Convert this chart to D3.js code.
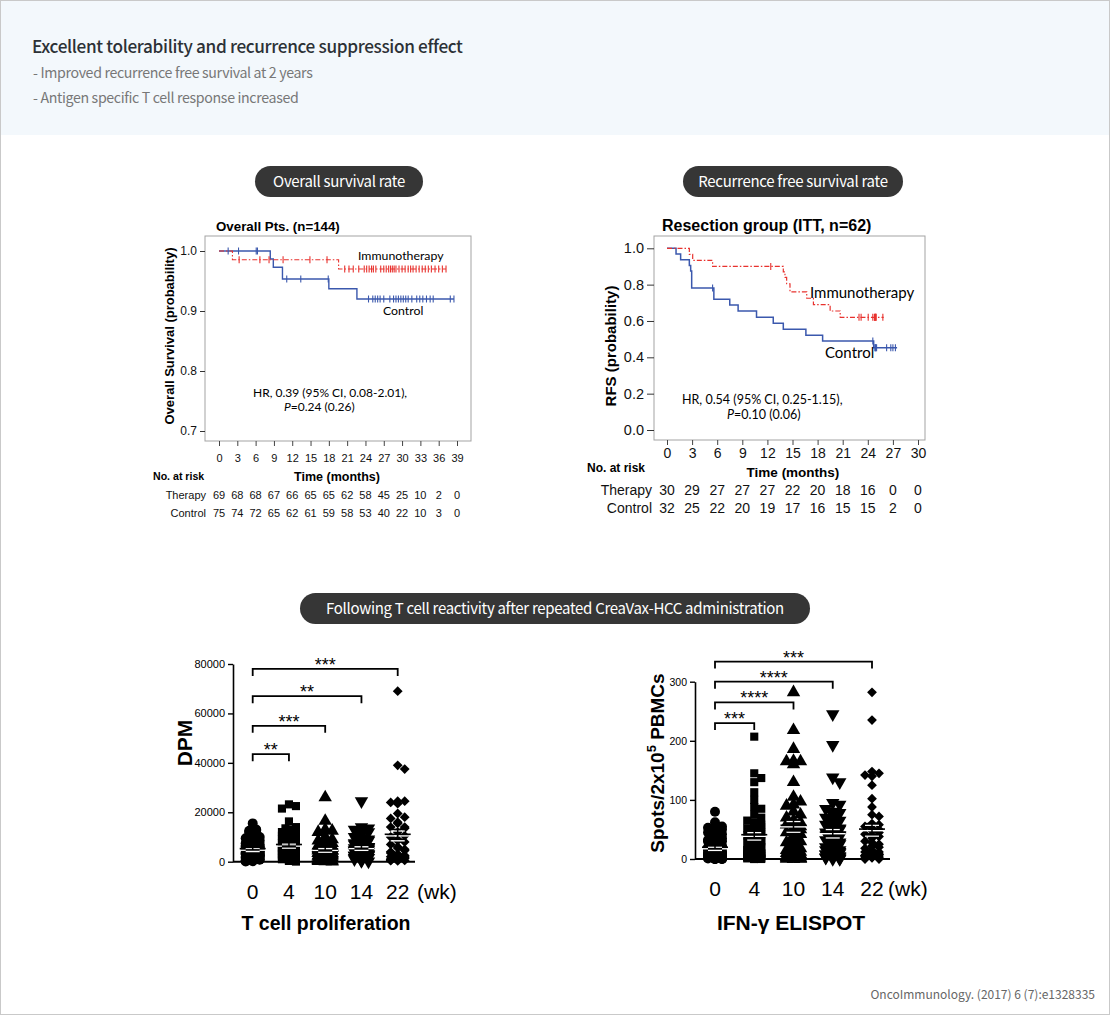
<!DOCTYPE html>
<html>
<head>
<meta charset="utf-8">
<script src="https://cdn.jsdelivr.net/npm/d3@7"></script>
<style>
body { margin: 0; background: #fff; }
svg { display: block; }
.hd { font-family: "Noto Sans CJK KR", "Noto Sans", sans-serif; }
.ar { font-family: "Liberation Sans", Arial, sans-serif; }
.cal { font-family: Lato, "Open Sans", sans-serif; }
</style>
</head>
<body>
<svg id="page" width="1110" height="1015"></svg>
<script>
// ---- overall survival (months, survival) ----
var osMonths = d3.range(0, 40, 3);
var osTherapyRisk = [69, 68, 68, 67, 66, 65, 65, 62, 58, 45, 25, 10, 2, 0];
var osControlRisk = [75, 74, 72, 65, 62, 61, 59, 58, 53, 40, 22, 10, 3, 0];
var osTherapySteps = [[0, 1], [2.2, 0.9855], [19.6, 0.970]];
var osTherapyEnd = 37.2;
var osTherapyCensor = [3.3, 6.7, 8.2, 10.5, 14.9, 17.7, 20.6, 21.3, 22.0, 22.9, 23.8, 24.2, 24.6, 25.0, 25.3, 25.7,
  26.5, 27.0, 27.4, 27.8, 28.1, 28.4, 28.7, 29.0, 29.5, 30.0, 30.5, 31.0, 31.4, 31.8, 32.3, 32.8, 33.3, 33.8,
  34.3, 34.8, 35.4, 36.0, 36.6, 37.2];
var osControlSteps = [[0, 1], [8.4, 0.9867], [8.9, 0.973], [10.4, 0.9533], [18.0, 0.937], [22.6, 0.92]];
var osControlEnd = 38.5;
var osControlCensor = [1.5, 3.2, 6.1, 6.3, 11.1, 13.4, 17.9, 24.5, 25.2, 25.6, 26.0, 26.4, 27.0, 28.0, 28.6, 29.0,
  29.4, 29.8, 30.2, 30.6, 31.0, 31.6, 32.4, 32.9, 33.4, 34.0, 34.6, 35.1, 37.9, 38.5];

// ---- recurrence free survival ----
var rfsMonths = d3.range(0, 31, 3);
var rfsTherapyRisk = [30, 29, 27, 27, 27, 22, 20, 18, 16, 0, 0];
var rfsControlRisk = [32, 25, 22, 20, 19, 17, 16, 15, 15, 2, 0];
var rfsTherapySteps = [[0, 1], [2.67, 0.967], [3.07, 0.933], [5.45, 0.9], [13.9, 0.87], [14.1, 0.84], [14.3, 0.805],
  [14.7, 0.76], [16.7, 0.725], [17.5, 0.69], [19.5, 0.655], [20.7, 0.62]];
var rfsTherapyEnd = 25.9;
var rfsTherapyCensor = [12.4, 22.95, 23.2, 24.05, 24.6, 24.8, 24.85, 24.9, 24.95, 25.0, 25.8];
var rfsControlSteps = [[0, 1], [1.08, 0.969], [1.63, 0.9375], [2.67, 0.906], [2.83, 0.875], [2.95, 0.781],
  [5.6, 0.719], [7.5, 0.688], [8.5, 0.655], [10.7, 0.62], [12.7, 0.587], [13.9, 0.554], [16.6, 0.522],
  [18.6, 0.49], [24.7, 0.453]];
var rfsControlEnd = 27.5;
var rfsControlCensor = [5.45, 24.6, 24.85, 24.9, 24.95, 25.05, 26.25, 26.75, 27.0, 27.3];

// ---- T cell reactivity (weeks) ----
var weeks = ["0", "4", "10", "14", "22"];
var dpm0 = [15500, 13000, 12500, 12500, 12000, 11500, 10500, 10000, 9500, 9000, 8500, 8000, 7500, 7000, 7000, 6500,
  6000, 6000, 6000, 5500, 5500, 5000, 5000, 5000, 4500, 4500, 4000, 4000, 4000, 3500, 3500, 3500, 3000, 3000, 3000,
  2500, 2500, 2500, 2000, 2000, 2000, 1500, 1500, 1000, 1000, 800, 500, 300, 200, 100];
var dpm4 = [23200, 22500, 21500, 16300, 14000, 13500, 13000, 12500, 12000, 11500, 11000, 10500, 10000, 9500, 9000,
  8500, 8000, 7500, 7000, 7000, 6500, 6000, 6000, 5500, 5500, 5000, 5000, 5000, 4500, 4500, 4000, 4000, 3500, 3500,
  3000, 3000, 3000, 2500, 2500, 2000, 2000, 2000, 1500, 1000, 1000, 500, 300, 200, 100];
var dpm10 = [26000, 16500, 13000, 12500, 12000, 10000, 9000, 8500, 8000, 7500, 7000, 6500, 6000, 6000, 5500, 5500,
  5000, 5000, 5000, 4500, 4500, 4500, 4000, 4000, 3500, 3500, 3500, 3000, 3000, 2500, 2500, 2000, 2000, 2000, 1500,
  1500, 1000, 1000, 800, 600, 400, 200, 100, 50];
var dpm14 = [24500, 14000, 13500, 13000, 12500, 12000, 11000, 10000, 9500, 9000, 8500, 8000, 7500, 7000, 6500, 6500,
  6000, 6000, 5500, 5500, 5000, 5000, 5000, 4500, 4500, 4000, 4000, 4000, 3500, 3500, 3000, 3000, 2500, 2500, 2500,
  2000, 2000, 1500, 1500, 1000, 1000, 500, 300, 100];
var dpm22 = [69000, 39000, 37500, 24500, 24500, 24000, 23500, 19500, 18000, 17500, 16000, 15500, 14000, 14000,
  13500, 12000, 10500, 10000, 9000, 8500, 8000, 7000, 6000, 5500, 5000, 4500, 4000, 3500, 3000, 3000, 2500, 2500,
  2000, 2000, 2000, 1500, 1500, 1000, 1000, 800, 600, 500, 400, 300];
var dpmTicks = [0, 20000, 40000, 60000, 80000];
var dpmBrackets = [["22", 78000, "***"], ["14", 67000, "**"], ["10", 55000, "***"], ["4", 43500, "**"]];

var eli0 = [80, 62, 55, 53, 52, 50, 50, 45, 42, 40, 38, 35, 32, 30, 30, 28, 25, 25, 22, 20, 20, 18, 18, 15, 15, 15,
  12, 12, 12, 10, 10, 10, 8, 8, 8, 6, 5, 5, 4, 3, 3, 2, 2, 2, 1, 1, 1, 0, 0, 0, 0, 0];
var eli4 = [207, 145, 137, 130, 113, 100, 88, 85, 75, 70, 65, 62, 60, 58, 55, 52, 50, 48, 45, 42, 40, 38, 35, 32,
  30, 28, 25, 22, 20, 18, 15, 15, 12, 12, 10, 10, 8, 8, 6, 5, 5, 4, 3, 3, 2, 2, 1, 1, 0, 0, 0];
var eli10 = [282, 218, 186, 166, 165, 165, 160, 130, 105, 97, 92, 90, 80, 75, 70, 65, 62, 60, 58, 55, 52, 50, 48,
  45, 42, 40, 35, 30, 28, 25, 20, 18, 15, 12, 12, 10, 10, 8, 8, 6, 5, 4, 3, 2, 2, 1, 1, 0, 0, 0, 0];
var eli14 = [245, 193, 138, 130, 95, 92, 85, 80, 78, 75, 70, 68, 65, 60, 58, 55, 52, 50, 48, 45, 42, 40, 38, 35, 32,
  30, 28, 25, 22, 20, 18, 15, 15, 12, 12, 10, 10, 8, 8, 6, 5, 5, 3, 3, 2, 2, 1, 0, 0];
var eli22 = [282, 235, 148, 145, 142, 140, 125, 102, 88, 75, 72, 60, 58, 55, 52, 50, 48, 45, 42, 40, 38, 35, 30, 28,
  25, 22, 20, 18, 15, 12, 12, 10, 10, 8, 8, 6, 6, 5, 5, 4, 3, 2, 2, 1, 0, 0];
var eliTicks = [0, 100, 200, 300];
var eliBrackets = [["22", 334, "***"], ["14", 300, "****"], ["10", 265, "****"], ["4", 230, "***"]];

var RED = "#e8322e", BLUE = "#3b58ad";

var svg = d3.select("#page");

// page frame + header band
svg.append("rect").attr("x", 0.5).attr("y", 0.5).attr("width", 1109).attr("height", 1014)
  .attr("fill", "#fff").attr("stroke", "#c9c9c9");
svg.append("rect").attr("x", 1).attr("y", 1).attr("width", 1108).attr("height", 134).attr("fill", "#f3f8fc");

svg.append("text").attr("class", "hd").attr("x", 32).attr("y", 53)
  .attr("font-size", 17.2).attr("font-weight", 500).attr("letter-spacing", -0.35).attr("fill", "#2c3136")
  .text("Excellent tolerability and recurrence suppression effect");
svg.append("text").attr("class", "hd").attr("x", 33).attr("y", 78)
  .attr("font-size", 14.2).attr("letter-spacing", -0.35).attr("fill", "#777")
  .text("- Improved recurrence free survival at 2 years");
svg.append("text").attr("class", "hd").attr("x", 33).attr("y", 103)
  .attr("font-size", 14.2).attr("letter-spacing", -0.35).attr("fill", "#777")
  .text("- Antigen specific T cell response increased");

var pill = function(x, y, w, h, label){
  svg.append("rect").attr("x", x).attr("y", y).attr("width", w).attr("height", h)
    .attr("rx", h / 2).attr("fill", "#363636");
  svg.append("text").attr("class", "hd").attr("x", x + w / 2).attr("y", y + h / 2 + 5.5)
    .attr("text-anchor", "middle").attr("font-size", 15).attr("letter-spacing", -0.3)
    .attr("fill", "#fff").text(label);
};
pill(255, 166, 168, 31, "Overall survival rate");
pill(683, 166, 220, 31, "Recurrence free survival rate");
pill(300, 593, 510, 31, "Following T cell reactivity after repeated CreaVax-HCC administration");

svg.append("text").attr("class", "hd").attr("x", 1095).attr("y", 999).attr("text-anchor", "end")
  .attr("font-size", 12).attr("fill", "#666").text("OncoImmunology. (2017) 6 (7):e1328335");

// ---------- Kaplan-Meier panels ----------
var drawKM = function(c){
  var g = svg.append("g");
  var f = c.frame;
  g.append("rect").attr("x", f[0]).attr("y", f[1]).attr("width", f[2] - f[0]).attr("height", f[3] - f[1])
    .attr("fill", "none").attr("stroke", "#a3a3a3");

  var ya = g.append("g").attr("transform", "translate(" + f[0] + ",0)")
    .call(d3.axisLeft(c.y).tickValues(c.yTicks).tickFormat(d3.format(".1f")).tickSize(c.yTickSize).tickSizeOuter(0));
  ya.select(".domain").remove();
  ya.attr("font-family", "Liberation Sans, Arial, sans-serif").attr("font-size", c.yFont).style("color", "#333");
  ya.selectAll("text").attr("fill", "#111");

  var xa = g.append("g").attr("transform", "translate(0," + f[3] + ")")
    .call(d3.axisBottom(c.x).tickValues(c.months).tickSize(5).tickPadding(c.xPad).tickSizeOuter(0));
  xa.select(".domain").remove();
  xa.attr("font-family", "Liberation Sans, Arial, sans-serif").attr("font-size", c.xFont).style("color", "#444");
  xa.selectAll("text").attr("fill", "#111");

  var line = d3.line().x(function(d){ return c.x(d[0]); }).y(function(d){ return c.y(d[1]); })
    .curve(d3.curveStepAfter);
  c.series.forEach(function(s){
    var last = s.steps[s.steps.length - 1][1];
    var pts = s.steps.concat([[s.end, last]]);
    g.append("path").attr("d", line(pts)).attr("fill", "none").attr("stroke", s.color)
      .attr("stroke-width", s.width).attr("stroke-dasharray", s.dash);
    var at = function(t){
      var v = 1;
      s.steps.forEach(function(p){ if (p[0] <= t) v = p[1]; });
      return v;
    };
    s.censor.forEach(function(t){
      var yy = c.y(at(t));
      g.append("line").attr("x1", c.x(t)).attr("x2", c.x(t)).attr("y1", yy - 3.5).attr("y2", yy + 3.5)
        .attr("stroke", s.color).attr("stroke-width", 1.1);
    });
  });

  // risk table
  c.risk.forEach(function(r){
    g.append("text").attr("class", "ar").attr("x", c.riskLabelX).attr("y", r.y).attr("text-anchor", "end")
      .attr("font-size", c.riskFont).attr("fill", "#111").text(r.label);
    r.values.forEach(function(v, i){
      g.append("text").attr("class", "ar").attr("x", c.x(c.months[i])).attr("y", r.y)
        .attr("text-anchor", "middle").attr("font-size", c.riskFont).attr("fill", "#111").text(v);
    });
  });
  return g;
};

// overall survival
var osX = d3.scaleLinear().domain([0, 39]).range([219, 457]);
var osY = d3.scaleLinear().domain([0.7, 1.0]).range([431, 251]);
var os = drawKM({
  frame: [205, 236, 471, 441], x: osX, y: osY, months: osMonths,
  yTicks: [0.7, 0.8, 0.9, 1.0], yTickSize: 5, yFont: 12, xFont: 11, xPad: 8,
  series: [
    {steps: osControlSteps, end: osControlEnd, censor: osControlCensor, color: BLUE, width: 1.4, dash: null},
    {steps: osTherapySteps, end: osTherapyEnd, censor: osTherapyCensor, color: RED, width: 1.1, dash: "5,2,1.5,2"}
  ],
  riskLabelX: 206, riskFont: 11,
  risk: [{label: "Therapy", values: osTherapyRisk, y: 499}, {label: "Control", values: osControlRisk, y: 517}]
});
os.append("text").attr("class", "ar").attr("x", 216).attr("y", 231).attr("font-size", 13.3)
  .attr("font-weight", "bold").text("Overall Pts. (n=144)");
os.append("text").attr("class", "ar").attr("transform", "translate(174,336) rotate(-90)")
  .attr("text-anchor", "middle").attr("font-size", 13).attr("font-weight", "bold")
  .text("Overall Survival (probability)");
os.append("text").attr("class", "cal").attr("x", 358).attr("y", 260).attr("font-size", 12.3).text("Immunotherapy");
os.append("text").attr("class", "cal").attr("x", 383).attr("y", 315).attr("font-size", 12.3).text("Control");
os.append("text").attr("class", "cal").attr("x", 253).attr("y", 397).attr("font-size", 12)
  .text("HR, 0.39 (95% CI, 0.08-2.01),");
var osP = os.append("text").attr("class", "cal").attr("x", 284).attr("y", 411).attr("font-size", 12);
osP.append("tspan").attr("font-style", "italic").text("P");
osP.append("tspan").text("=0.24 (0.26)");
os.append("text").attr("class", "ar").attr("x", 153).attr("y", 480).attr("font-size", 10.6)
  .attr("font-weight", "bold").text("No. at risk");
os.append("text").attr("class", "ar").attr("x", 337).attr("y", 481).attr("text-anchor", "middle")
  .attr("font-size", 12.5).attr("font-weight", "bold").text("Time (months)");

// recurrence free survival
var rfsX = d3.scaleLinear().domain([0, 30]).range([667, 918]);
var rfsY = d3.scaleLinear().domain([0, 1]).range([430, 248.3]);
var rfs = drawKM({
  frame: [654, 236, 925, 440], x: rfsX, y: rfsY, months: rfsMonths,
  yTicks: [0, 0.2, 0.4, 0.6, 0.8, 1.0], yTickSize: 7, yFont: 14.5, xFont: 14, xPad: 3,
  series: [
    {steps: rfsControlSteps, end: rfsControlEnd, censor: rfsControlCensor, color: BLUE, width: 1.5, dash: null},
    {steps: rfsTherapySteps, end: rfsTherapyEnd, censor: rfsTherapyCensor, color: RED, width: 1.2, dash: "5,2,1.5,2"}
  ],
  riskLabelX: 652, riskFont: 14,
  risk: [{label: "Therapy", values: rfsTherapyRisk, y: 495}, {label: "Control", values: rfsControlRisk, y: 513}]
});
rfs.append("text").attr("class", "ar").attr("x", 662).attr("y", 231).attr("font-size", 16)
  .attr("font-weight", "bold").text("Resection group (ITT, n=62)");
rfs.append("text").attr("class", "ar").attr("transform", "translate(616,346) rotate(-90)")
  .attr("text-anchor", "middle").attr("font-size", 15).attr("font-weight", "bold").text("RFS (probability)");
rfs.append("text").attr("class", "cal").attr("x", 810).attr("y", 298).attr("font-size", 15).text("Immunotherapy");
rfs.append("text").attr("class", "cal").attr("x", 825).attr("y", 358).attr("font-size", 15).text("Control");
rfs.append("text").attr("class", "cal").attr("x", 682).attr("y", 404).attr("font-size", 12.5)
  .text("HR, 0.54 (95% CI, 0.25-1.15),");
var rfsP = rfs.append("text").attr("class", "cal").attr("x", 727).attr("y", 419).attr("font-size", 12.5);
rfsP.append("tspan").attr("font-style", "italic").text("P");
rfsP.append("tspan").text("=0.10 (0.06)");
rfs.append("text").attr("class", "ar").attr("x", 587).attr("y", 472).attr("font-size", 12)
  .attr("font-weight", "bold").text("No. at risk");
rfs.append("text").attr("class", "ar").attr("x", 793).attr("y", 477).attr("text-anchor", "middle")
  .attr("font-size", 13.5).attr("font-weight", "bold").text("Time (months)");

// ---------- scatter panels ----------
var symbols = [
  d3.symbol().type(d3.symbolCircle).size(78),
  d3.symbol().type(d3.symbolSquare).size(66),
  d3.symbol().type(d3.symbolTriangle).size(78),
  d3.symbol().type(d3.symbolTriangle).size(78),
  d3.symbol().type(d3.symbolSquare).size(48)
];
var rotations = [0, 0, 0, 180, 45];

var swarm = function(vals, y, cx, step, maxOff, dmin){
  var placed = [];
  var cands = [0];
  for (var k = 1; k * step <= maxOff; k++) cands.push(k * step, -k * step);
  vals.slice().sort(d3.descending).forEach(function(v){
    var py = y(v), best = 0, bestC = 1e9;
    cands.forEach(function(o){
      var n = 0;
      placed.forEach(function(p){
        var dx = p.x - (cx + o), dy = p.y - py;
        if (dx * dx + dy * dy < dmin * dmin) n++;
      });
      if (n < bestC){ bestC = n; best = o; }
    });
    placed.push({x: cx + best, y: py});
  });
  return placed;
};

var drawScatter = function(c){
  var g = svg.append("g");
  var ya = g.append("g").attr("transform", "translate(" + c.axisX + ",0)")
    .call(d3.axisLeft(c.y).tickValues(c.ticks).tickFormat(d3.format("d")).tickSize(5).tickSizeOuter(0));
  ya.attr("font-family", "Liberation Sans, Arial, sans-serif").attr("font-size", c.tickFont).style("color", "#000");
  ya.selectAll("text").style("fill", "#000");
  ya.select(".domain").attr("stroke-width", 1.6);
  ya.selectAll(".tick line").attr("stroke-width", 1.4);
  g.append("line").attr("x1", c.axisX).attr("x2", c.axisEnd).attr("y1", c.y(0)).attr("y2", c.y(0))
    .attr("stroke", "#000").attr("stroke-width", 2);

  c.groups.forEach(function(vals, i){
    var cx = c.x(weeks[i]);
    var pts = swarm(vals, c.y, cx, 3.5, 9, 7);
    g.selectAll(null).data(pts).enter().append("path")
      .attr("d", symbols[i])
      .attr("transform", function(d){ return "translate(" + d.x + "," + d.y + ") rotate(" + rotations[i] + ")"; })
      .attr("fill", "#000");
    var m = d3.mean(vals), se = d3.deviation(vals) / Math.sqrt(vals.length);
    [[m, 13], [m + se, 7], [m - se, 7]].forEach(function(l){
      g.append("line").attr("x1", cx - l[1]).attr("x2", cx + l[1]).attr("y1", c.y(l[0]) + 1.6).attr("y2", c.y(l[0]) + 1.6)
        .attr("stroke", "#fff").attr("stroke-width", 1.4);
      g.append("line").attr("x1", cx - l[1]).attr("x2", cx + l[1]).attr("y1", c.y(l[0])).attr("y2", c.y(l[0]))
        .attr("stroke", "#000").attr("stroke-width", 1.6);
    });
    g.append("line").attr("x1", cx).attr("x2", cx).attr("y1", c.y(m + se)).attr("y2", c.y(m - se))
      .attr("stroke", "#000").attr("stroke-width", 1.5);

    g.append("text").attr("class", "ar").attr("x", cx).attr("y", c.labelY).attr("text-anchor", "middle")
      .attr("font-size", 21).text(weeks[i]);
  });
  g.append("text").attr("class", "ar").attr("x", c.wkX).attr("y", c.labelY).attr("font-size", 21).text("(wk)");

  c.brackets.forEach(function(b){
    var x0 = c.x(weeks[0]), x1 = c.x(b[0]), yy = c.y(b[1]);
    g.append("path").attr("d", "M" + x0 + "," + (yy + 7) + "V" + yy + "H" + x1 + "V" + (yy + 7))
      .attr("fill", "none").attr("stroke", "#000").attr("stroke-width", 1.8);
    g.append("text").attr("class", "ar").attr("x", (x0 + x1) / 2).attr("y", yy + 2).attr("text-anchor", "middle")
      .attr("font-size", 18).text(b[2]);
  });
  g.append("text").attr("class", "ar").attr("x", c.titleX).attr("y", 930).attr("text-anchor", "middle")
    .attr("font-size", c.titleFont).attr("font-weight", "bold").text(c.title);
  return g;
};

var dpmY = d3.scaleLinear().domain([0, 80000]).range([861.7, 664]);
var dpmX = d3.scalePoint().domain(weeks).range([252.7, 397.7]);
var dpmG = drawScatter({
  x: dpmX, y: dpmY, ticks: dpmTicks, tickFont: 11, axisX: 233, axisEnd: 415,
  groups: [dpm0, dpm4, dpm10, dpm14, dpm22], brackets: dpmBrackets,
  labelY: 899, wkX: 417, titleX: 326, titleFont: 19.5, title: "T cell proliferation"
});
dpmG.append("text").attr("class", "ar").attr("transform", "translate(192,743) rotate(-90)")
  .attr("text-anchor", "middle").attr("font-size", 21).attr("font-weight", "bold").text("DPM");

var eliY = d3.scaleLinear().domain([0, 300]).range([859, 681.7]);
var eliX = d3.scalePoint().domain(weeks).range([715, 872]);
var eliG = drawScatter({
  x: eliX, y: eliY, ticks: eliTicks, tickFont: 10.5, axisX: 695, axisEnd: 890,
  groups: [eli0, eli4, eli10, eli14, eli22], brackets: eliBrackets,
  labelY: 896, wkX: 888, titleX: 791, titleFont: 21, title: "IFN-\u03b3 ELISPOT"
});
var eliLab = eliG.append("text").attr("class", "ar").attr("transform", "translate(664,763) rotate(-90)")
  .attr("text-anchor", "middle").attr("font-size", 19).attr("font-weight", "bold");
eliLab.append("tspan").text("Spots/2x10");
eliLab.append("tspan").attr("font-size", 13).attr("dy", "-0.6em").text("5");
eliLab.append("tspan").attr("dy", "0.4em").text(" PBMCs");
</script>
</body>
</html>
